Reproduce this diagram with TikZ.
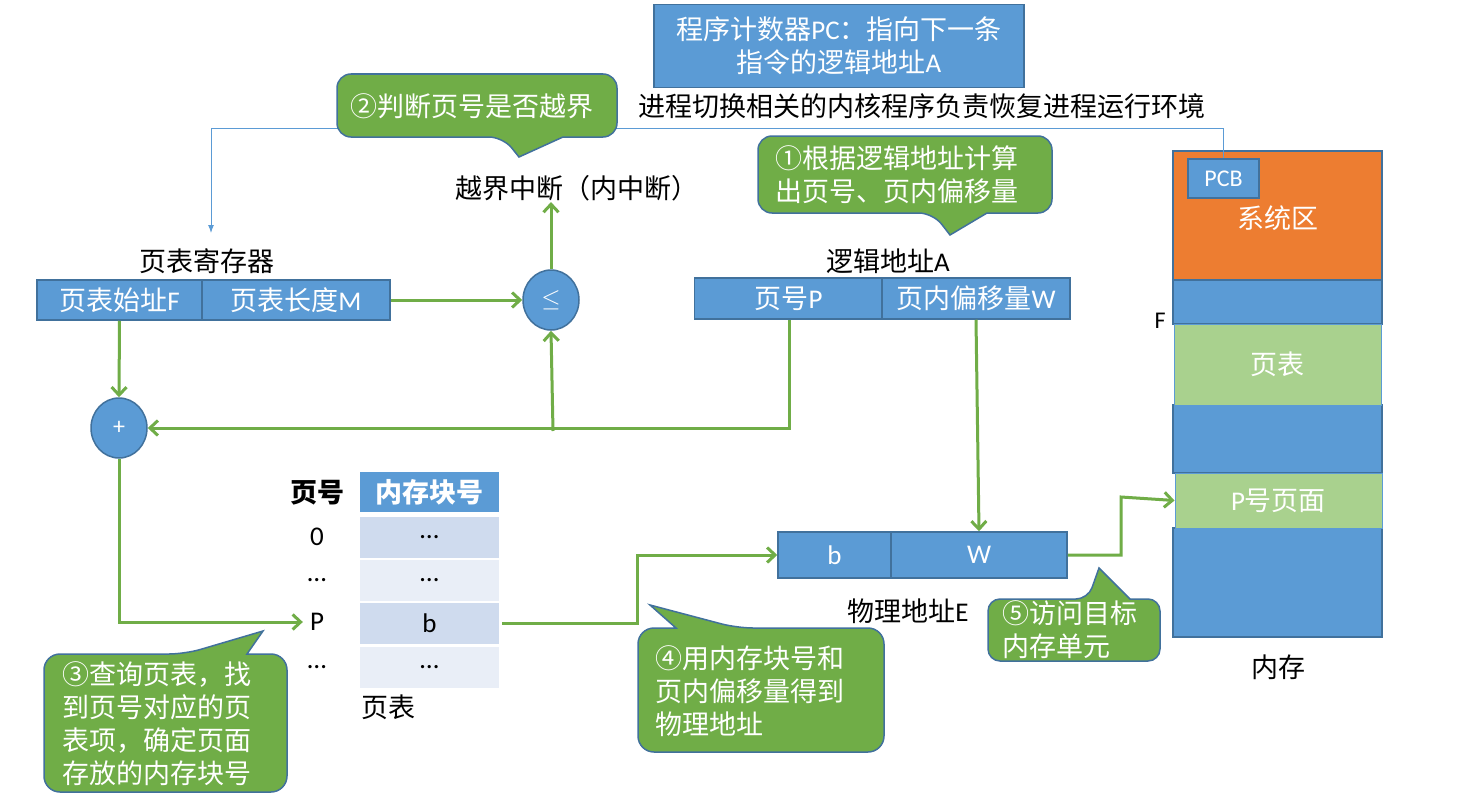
\documentclass[tikz,border=0pt]{standalone}
\usepackage{fontspec}
\setmainfont{Noto Sans CJK SC}
\newfontfamily\lat{Carlito}
\usetikzlibrary{arrows.meta,shapes.geometric,calc}
\definecolor{boxblue}{HTML}{5B9BD5}
\definecolor{edgeblue}{HTML}{41719C}
\definecolor{cgreen}{HTML}{70AD47}
\definecolor{lgreen}{HTML}{A9D18E}
\definecolor{sysorange}{HTML}{ED7D31}
\definecolor{rowA}{HTML}{CFDBEE}
\definecolor{rowB}{HTML}{E9EEF7}
\newcommand\mysize{\fontsize{27}{33}\selectfont}
\newcommand\smsize{\fontsize{24}{28}\selectfont}
\begin{document}
\begin{tikzpicture}[x=1pt,y=-1pt,
  bx/.style={draw=edgeblue, line width=1.5pt, fill=boxblue, text=white, inner sep=0pt, font=\mysize},
  memblk/.style={draw=edgeblue, line width=1.5pt, fill=boxblue, inner sep=0pt, minimum width=209, text=white, font=\mysize},
  memgreen/.style={draw=boxblue, line width=1pt, fill=lgreen, inner sep=0pt, minimum width=207, text=white, font=\mysize},
  garrow/.style={draw=cgreen, line width=3pt, -{Straight Barb[length=8pt,width=15pt]}},
  tarrow/.style={draw=boxblue, line width=1pt, -{Latex[length=8pt,width=6pt]}},
  lbl/.style={font=\mysize, text=black, inner sep=1pt},
  callout/.style={fill=cgreen, draw=edgeblue, line width=1.5pt},
  ctext/.style={font=\mysize, text=white, inner sep=0pt},
  circ/.style={ellipse, draw=edgeblue, line width=1.5pt, fill=boxblue, text=white, minimum width=56, minimum height=60, inner sep=0pt},
  cellA/.style={fill=rowA, minimum width=139, minimum height=41, inner sep=0pt, font=\mysize},
  cellB/.style={fill=rowB, minimum width=139, minimum height=41, inner sep=0pt, font=\mysize}
]
\useasboundingbox (0,0) rectangle (1480,808);
\fill[white] (0,0) rectangle (1480,808);

% memory column
\node[memblk, fill=sysorange, minimum height=129] (sys) at (1277.5,215.5) {};
\node[text=white, font=\mysize] (systxt) at (1277.5,218) {系统区};
\node[memblk, minimum height=44] (mb1) at (1277.5,302) {};
\node[memblk, minimum height=68] (mb2) at (1277.5,439) {};
\node[memblk, minimum height=109] (mb3) at (1277.5,582.5) {};
\node[memgreen, minimum height=81] (mpt) at (1277.5,364.5) {页表};
\node[memgreen, minimum height=55] (mpp) at (1278.5,500.5) {{\lat P}号页面};
\node[bx, minimum width=71, minimum height=39, font=\smsize\lat] (pcb) at (1223.5,178.5) {PCB};
\node[lbl, font=\smsize\lat] (flbl) at (1160,321) {F};
\node[lbl] (mem) at (1278,667) {内存};

% PC box and environment text
\node[bx, minimum width=370, minimum height=83, align=center] (pc) at (839,46) {程序计数器{\lat PC}：指向下一条\\指令的逻辑地址{\lat A}};
\node[lbl] (env) at (922,106) {进程切换相关的内核程序负责恢复进程运行环境};

% thin blue line from PCB to page table register
\coordinate (t2) at (211,128);
\coordinate (t3) at (211,233);
\draw[tarrow] (pcb.north) |- (t2) -- (t3);

% page table register
\node[lbl] (reglbl) at (207,261) {页表寄存器};
\node[bx, minimum width=165, minimum height=40] (regF) at (119.5,300) {页表始址{\lat F}};
\node[bx, minimum width=188, minimum height=40] (regM) at (296,300) {页表长度{\lat M}};

% comparison and addition
\node[circ, font=\smsize] (le) at (551,300) {$\le$};
\node[circ, font=\smsize\lat] (plus) at (119,428) {+};
\node[lbl] (oob) at (577,188) {越界中断（内中断）};

% logical address
\node[lbl] (lalbl) at (888,261) {逻辑地址{\lat A}};
\node[bx, minimum width=188, minimum height=41] (laP) at (788.5,298.5) {页号{\lat P}};
\node[bx, minimum width=188, minimum height=41] (laW) at (976,298.5) {页内偏移量{\lat W}};

% page table
\node[lbl, font=\mysize\bfseries] (hpn) at (317,493) {页号};
\node[bx, draw=none, minimum width=139, minimum height=40, font=\mysize\bfseries] (hblk) at (429.5,492) {内存块号};
\node[cellA] (c0) at (429.5,537.5) {\lat …};
\node[cellB] (c1) at (429.5,580.5) {\lat …};
\node[cellA] (cb) at (429.5,623.5) {\lat b};
\node[cellB] (c3) at (429.5,667.5) {\lat …};
\node[lbl, font=\mysize\lat] (r0) at (317,537) {0};
\node[lbl, font=\mysize\lat] (r1) at (317,580) {…};
\node[lbl, font=\mysize\lat] (rP) at (317,622) {P};
\node[lbl, font=\mysize\lat] (r3) at (317,667) {…};
\node[lbl] (ptlbl) at (388,707) {页表};

% physical address
\node[bx, minimum width=113, minimum height=46, font=\mysize\lat] (pb) at (834.5,555) {b};
\node[bx, minimum width=176, minimum height=46, font=\mysize\lat] (pW) at (979,555) {W};
\node[lbl] (palbl) at (908,611) {物理地址{\lat E}};

% green connectors
\draw[garrow] (regM.east) -- (le.west);
\draw[garrow] (le.north) -- (le.north |- oob.south);
\draw[garrow] (regF.south) -- (plus.north);
\draw[garrow] ([xshift=1pt]laP.south) |- (plus.east);
\coordinate (jn) at (553,431);
\draw[garrow] (jn) -- (le.south);
\draw[garrow] (plus.south) |- ([xshift=-6pt]rP.west);
\coordinate (m1) at (637,555);
\draw[garrow] ([xshift=3pt]cb.east) -| (m1) -- (pb.west);
\draw[garrow] (laW.south) -- (pW.north);
\coordinate (m2) at (1121,497);
\draw[garrow] (pW.east) -| (m2) -- (mpp.west);

% callout 2
\draw[callout] (519,157) -- (563,137) [rounded corners=14pt] -- (617,137) -- (617,74) -- (337,74) -- (337,137) -- (503,137) [sharp corners] -- cycle;
\node[ctext] (k2) at (472,106) {②判断页号是否越界};

% callout 1
\draw[callout] (950,235) -- (987,213) [rounded corners=14pt] -- (1052,213) -- (1052,136) -- (758,136) -- (758,213) -- (933,213) [sharp corners] -- cycle;
\node[ctext, align=left] (k1) at (897,175) {①根据逻辑地址计算\\出页号、页内偏移量};

% callout 3
\draw[callout] (263,631) -- (247,654) [rounded corners=16pt] -- (287,654) -- (287,792) -- (44,792) -- (44,654) -- (185,654) [sharp corners] -- cycle;
\node[ctext, align=left] (k3) at (157,724) {③查询页表，找\\到页号对应的页\\表项，确定页面\\存放的内存块号};

% callout 4
\draw[callout] (650,605) -- (676,628) [rounded corners=16pt] -- (638,628) -- (638,752) -- (884,752) -- (884,628) -- (737,628) [sharp corners] -- cycle;
\node[ctext, align=left] (k4) at (750,691) {④用内存块号和\\页内偏移量得到\\物理地址};

% callout 5
\draw[callout] (1099,568) -- (1130,599) [rounded corners=12pt] -- (1160,599) -- (1160,661) -- (988,661) -- (988,599) -- (1088,599) [sharp corners] -- cycle;
\node[ctext, align=left] (k5) at (1070,630) {⑤访问目标\\内存单元};

\end{tikzpicture}
\end{document}
